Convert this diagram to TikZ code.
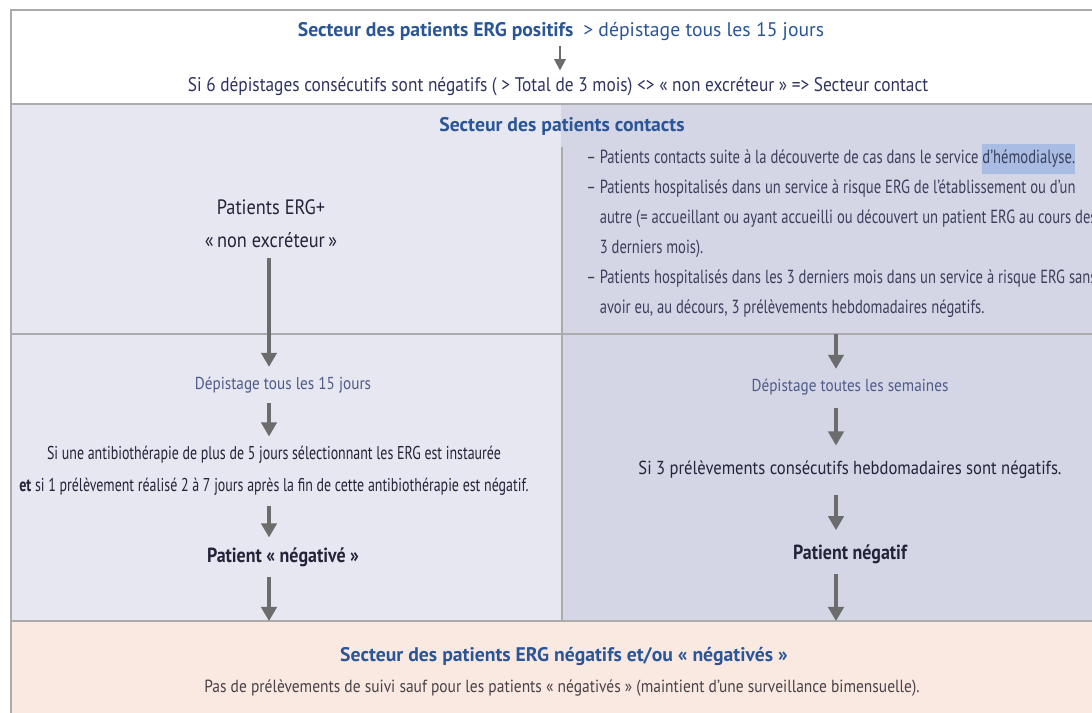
\documentclass[tikz,border=0pt]{standalone}
\usepackage{fontspec}
\setmainfont{PT Sans}[FakeStretch=0.88]
\newfontfamily\narrowfont{PT Sans}[FakeStretch=0.75]
\newfontfamily\bulletfont{PT Sans}[FakeStretch=0.77]
\newfontfamily\widefont{PT Sans}[FakeStretch=1.0]
\usepackage{tikz}
\usetikzlibrary{arrows.meta,calc}
\definecolor{cFrame}{HTML}{ABABAB}
\definecolor{cArrow}{HTML}{6C6C6C}
\definecolor{cBlueT}{HTML}{2A5596}
\definecolor{cNavyT}{HTML}{2D3462}
\definecolor{cSoftT}{HTML}{4E5B8A}
\definecolor{cDarkT}{HTML}{23233A}
\definecolor{cGrayT}{HTML}{3C3F5C}
\definecolor{cBrownT}{HTML}{4A4048}
\definecolor{cLeftF}{HTML}{E6E7F0}
\definecolor{cRightF}{HTML}{D4D6E6}
\definecolor{cPeachF}{HTML}{F9E9E1}
\definecolor{cHiF}{HTML}{A9BDE4}
\newcommand\hilite[1]{\begingroup\setlength\fboxsep{0pt}\colorbox{cHiF}{\rule[-7pt]{0pt}{21pt}#1}\endgroup}
\tikzset{
  hdr/.style      = {text=cBlueT, font=\widefont\fontsize{14}{16}\selectfont\bfseries, inner sep=2pt},
  txt/.style      = {text=cNavyT, font=\fontsize{12}{23.5}\selectfont, align=center, inner sep=2pt},
  big/.style      = {txt, font=\fontsize{14}{23.5}\selectfont},
  soft/.style     = {txt, text=cSoftT, font=\fontsize{12.3}{15}\selectfont},
  dense/.style    = {txt, text=cDarkT, font=\narrowfont\fontsize{13.2}{22.5}\selectfont},
  strongtxt/.style= {txt, text=cDarkT, font=\fontsize{14.5}{17}\selectfont\bfseries},
  bullets/.style  = {text=cGrayT, font=\bulletfont\fontsize{13.5}{21.3}\selectfont,
                     align=left, inner sep=0pt},
  note/.style     = {txt, text=cBrownT, font=\fontsize{12.5}{15}\selectfont},
  divider/.style  = {cFrame, line width=1.4pt},
  flow/.style     = {cArrow, line width=2.2pt, shorten <=5pt, shorten >=5pt,
                     -{Triangle[width=11pt,length=10pt]}},
  flowthin/.style = {flow, line width=1.6pt, shorten <=2pt, shorten >=3pt,
                     -{Triangle[width=8pt,length=8pt]}},
}
\begin{document}
\begin{tikzpicture}[x=0.025cm, y=-0.025cm]
  \useasboundingbox (0,0) rectangle (1092,712);
  \clip (0,0) rectangle (1092,712);
  % sector backgrounds
  \fill[white]    (11,10)   rectangle (1100,104);
  \fill[cLeftF]   (11,104)  rectangle (561,621);
  \fill[cRightF]  (561,104) rectangle (1100,621);
  \fill[cPeachF]  (11,621)  rectangle (1100,720);
  % frame and separators
  \draw[divider] (11,720) -- (11,10) -- (1100,10);
  \draw[divider] (11,104) -- (1100,104);
  \draw[divider] (11,334) -- (1100,334);
  \draw[divider] (11,621) -- (1100,621);
  \draw[divider] (562,147) -- (562,621);
  \coordinate (axisL) at (269,0);
  \coordinate (axisR) at (836,0);
  \coordinate (rowB) at (0,334);
  \coordinate (rowN) at (0,621);

  % ERG positive sector
  \node[hdr] (pos) at (561,31) {Secteur des patients ERG positifs\ \ {\mdseries > dépistage tous les 15 jours}};
  \node[big] (sixneg) at (558,87) {Si 6 dépistages consécutifs sont négatifs ( > Total de 3 mois) <> « non excréteur » => Secteur contact};
  \draw[flowthin] (pos.south -| 560,0) -- (sixneg.north -| 560,0);

  % contact sector
  \node[hdr] (cont) at (562,126) {Secteur des patients contacts};
  \node[big, font=\fontsize{14.8}{23.5}\selectfont, text=cDarkT] (ergp) at (271,224) {Patients ERG+\\«\,non excréteur\,»};
  \node[bullets, anchor=north west] (crit) at (586,144) {%
    – Patients contacts suite à la découverte de cas dans le service \hilite{d’hémodialyse.}\\
    – Patients hospitalisés dans un service à risque ERG de l’établissement ou d’un\\
    \hphantom{– }autre (= accueillant ou ayant accueilli ou découvert un patient ERG au cours des\\
    \hphantom{– }3 derniers mois).\\
    – Patients hospitalisés dans les 3 derniers mois dans un service à risque ERG sans\\
    \hphantom{– }avoir eu, au décours, 3 prélèvements hebdomadaires négatifs.};

  % follow-up, left column
  \node[soft] (dep15) at (283,385) {Dépistage tous les 15 jours};
  \node[dense] (atb) at (274,471) {Si une antibiothérapie de plus de 5 jours sélectionnant les ERG est instaurée\\
    {\bfseries et} si 1 prélèvement réalisé 2 à 7 jours après la fin de cette antibiothérapie est négatif.};
  \node[strongtxt] (negL) at (283,557) {Patient « négativé »};
  \draw[flow] (ergp.south -| axisL) -- (dep15.north -| axisL);
  \draw[flow] (dep15.south -| axisL) -- (atb.north -| axisL);
  \draw[flow] (atb.south -| axisL) -- (negL.north -| axisL);
  \draw[flow, shorten >=0pt] (negL.south -| axisL) -- (axisL |- rowN);

  % follow-up, right column
  \node[soft] (depW) at (850,387) {Dépistage toutes les semaines};
  \node[big, font=\fontsize{13.4}{16}\selectfont, text=cDarkT] (si3) at (850,470) {Si 3 prélèvements consécutifs hebdomadaires sont négatifs.};
  \node[strongtxt] (negR) at (850,554) {Patient négatif};
  \draw[flow, shorten <=0pt] (axisR |- rowB) -- (depW.north -| axisR);
  \draw[flow, shorten <=7pt, shorten >=9pt] (depW.south -| axisR) -- (si3.north -| axisR);
  \draw[flow, shorten <=9pt, shorten >=8pt] (si3.south -| axisR) -- (negR.north -| axisR);
  \draw[flow, shorten >=0pt] (negR.south -| axisR) -- (axisR |- rowN);

  % ERG negative sector
  \node[hdr] (negsec) at (564,656) {Secteur des patients ERG négatifs et/ou « négativés »};
  \node[note] (suivi) at (562,688) {Pas de prélèvements de suivi sauf pour les patients « négativés » (maintient d’une surveillance bimensuelle).};
\end{tikzpicture}
\end{document}
